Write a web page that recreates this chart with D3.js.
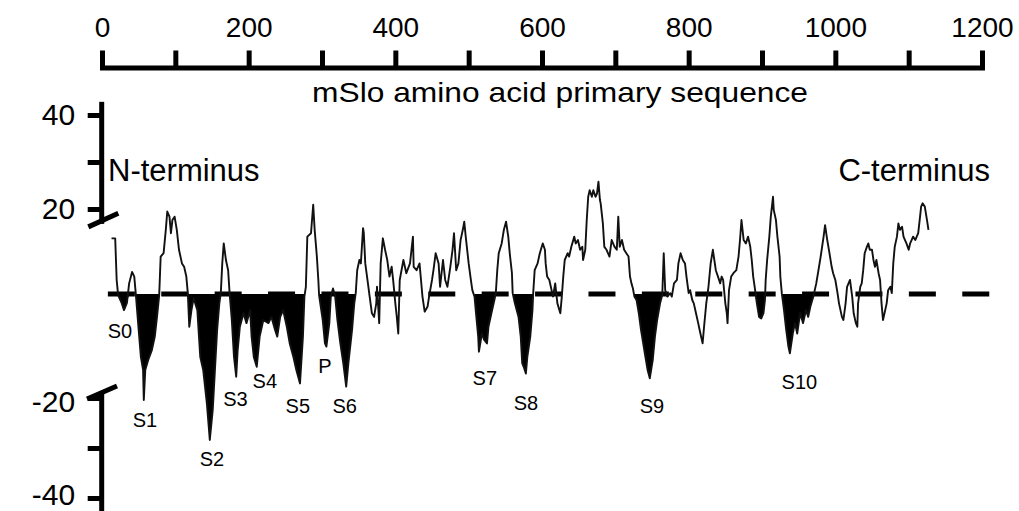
<!DOCTYPE html>
<html><head><meta charset="utf-8">
<script src="https://cdn.jsdelivr.net/npm/d3@7"></script>
<style>
body{margin:0;background:#fff}
svg{display:block}
text{font-family:"Liberation Sans",Arial,sans-serif;fill:#000}
</style>
</head><body>
<svg id="chart" width="1019" height="511"></svg>
<script>
// ---------- data ----------
const residue = [13,18,20,22,27,30,34,37,41,44,46,50,53,56,57,59,63,68,72,75,78,80,84,87,89,92,94,96,99,102,105,109,112,115,117,119,122,125,130,134,138,143,147,151,154,157,160,162,164,166,169,172,174,177,180,183,185,188,193,197,202,204,207,211,215,220,227,231,236,239,243,247,252,256,261,265,270,274,276,278,280,285,288,290,293,295,296,301,304,306,310,312,315,318,321,325,329,333,336,341,344,346,348,351,353,356,357,359,362,365,368,371,374,375,378,380,383,386,389,392,395,397,400,402,404,406,411,415,420,424,425,429,433,435,437,440,444,446,450,452,455,459,461,465,468,471,475,478,480,483,486,489,492,494,496,500,503,505,508,510,513,514,518,521,525,527,531,535,537,539,541,545,548,551,554,556,559,560,563,568,571,573,575,578,580,584,587,588,590,594,597,601,604,605,607,610,615,618,621,625,627,629,631,635,637,640,644,646,649,652,655,656,659,661,663,665,668,670,673,675,677,679,680,683,685,688,692,695,699,702,704,706,709,712,715,718,720,722,724,726,729,732,735,738,741,744,747,751,754,757,761,764,766,768,771,775,777,780,784,786,789,792,795,797,800,802,805,807,810,813,816,819,821,824,827,830,833,835,837,840,843,845,847,850,852,853,855,858,861,865,868,870,872,875,878,881,884,886,888,890,893,896,899,902,904,905,907,910,912,915,916,919,921,924,925,927,930,933,936,938,942,945,948,952,956,960,963,966,970,974,977,980,984,986,989,992,995,997,1000,1003,1005,1009,1011,1014,1016,1020,1023,1025,1028,1030,1031,1034,1036,1038,1040,1043,1045,1047,1050,1052,1054,1056,1059,1061,1063,1065,1068,1070,1072,1075,1077,1079,1081,1084,1086,1088,1091,1093,1095,1097,1100,1102,1104,1106,1109,1111,1113,1115,1117,1119,1122,1125,1127];
const hydropathy = [13.1,13.1,3.3,-0.2,-1.8,-3.1,-1.7,2.5,5.2,4.1,0.2,-6.9,-12.1,-14.6,-20.4,-14.6,-12.7,-10.8,-8.2,-4.4,-0.2,8.8,9.6,15.1,19.4,18.2,14.3,17.4,18.2,15.1,10.4,7.2,6.4,4.1,0.2,-6.3,-3.1,-0.8,-3.1,-12.1,-14.6,-21.1,-28.4,-22.4,-14.6,-6.9,-1.8,0.2,7.2,11.9,8.0,5.6,0.2,-5.0,-12.1,-15.9,-10.8,-6.3,-3.7,-5.6,-3.1,-8.2,-12.1,-14.0,-8.2,-5.0,-5.6,-4.4,-6.9,-8.2,-4.4,-3.1,-6.3,-9.5,-12.1,-14.6,-17.2,-8.2,-0.5,1.7,13.5,14.3,20.9,15.1,8.8,3.3,-0.2,-5.0,-9.5,-10.1,-5.6,-0.5,1.3,-0.5,-5.0,-9.5,-13.3,-17.8,-13.3,-6.9,-1.8,0.2,5.6,8.0,7.2,15.5,14.3,7.2,3.3,-0.5,-3.7,-4.4,-1.8,1.7,-5.6,7.2,13.1,10.4,8.0,4.1,6.4,3.3,-1.8,-4.4,-7.6,3.3,8.0,4.9,7.2,13.5,6.4,5.6,7.2,3.3,-0.5,-3.4,-2.4,-0.5,3.3,5.6,9.6,7.2,1.7,8.0,3.3,1.7,6.4,10.4,14.3,5.6,7.2,12.7,15.1,17.0,13.5,7.2,3.3,0.9,-0.5,-3.7,-8.2,-11.1,-7.6,-8.8,-9.5,-6.3,-3.7,-1.2,0.2,5.6,9.6,11.9,15.1,17.0,13.5,9.6,4.9,0.2,-1.8,-4.4,-8.2,-13.3,-14.0,-15.3,-12.1,-8.2,-3.1,0.2,5.6,7.2,9.6,11.9,10.4,7.2,4.1,3.3,-0.5,2.5,-1.8,-3.7,-0.5,4.1,8.0,9.6,8.8,11.1,13.5,11.9,12.7,10.4,11.1,8.0,10.4,17.4,22.6,24.0,22.6,24.0,22.6,23.3,25.8,21.9,21.2,16.6,11.1,10.4,8.8,12.7,11.1,10.4,18.2,11.1,12.7,10.4,9.6,8.8,4.1,2.5,1.3,-0.5,-1.2,-3.7,-6.9,-9.5,-12.1,-14.6,-16.2,-12.7,-8.2,-5.0,-1.8,-0.2,9.6,0.9,-0.5,0.2,-0.5,2.5,3.3,7.2,9.6,8.0,7.2,4.1,0.2,0.9,-1.2,-1.8,-3.7,-5.6,-7.6,-9.5,-6.3,-1.8,1.7,7.2,10.4,8.0,5.6,4.1,2.5,4.1,3.3,-1.8,-3.7,-5.6,0.9,4.1,4.9,5.6,8.8,12.7,17.4,12.7,11.9,13.5,11.1,8.0,4.1,1.7,-1.8,-4.4,-4.7,-3.7,-1.2,3.3,8.0,13.5,18.2,22.6,19.8,17.4,13.5,8.8,4.1,0.2,-3.1,-6.9,-10.1,-11.4,-7.6,-5.6,-7.6,-3.7,-5.6,-3.1,-4.4,-2.4,-0.5,2.5,5.6,8.8,13.5,16.2,12.7,9.6,6.4,4.9,3.3,0.2,-1.8,-4.4,-5.0,-1.8,1.7,3.3,-0.5,-3.7,-5.6,-6.3,-1.8,1.7,2.5,5.6,9.6,11.1,11.9,10.4,10.4,8.0,6.4,8.0,4.9,3.3,-1.8,-5.0,-3.1,-1.8,0.9,1.7,0.2,7.2,11.1,13.5,16.6,15.1,15.8,13.5,12.7,11.9,10.4,11.9,12.7,13.5,12.7,13.5,14.3,17.4,20.5,21.2,20.5,17.4,15.1];
// hydrophobic segments drawn filled (residue ranges)
const filledStart = [20,46,117,174,296,508,560,726,890,927];
const filledEnd   = [37,78,162,276,346,537,588,764,905,970];
// segment labels (annotation anchor in data units)
const segNames   = ["S0","S1","S2","S3","S4","S5","P","S6","S7","S8","S9","S10"];
const segResidue = [24.5,58.6,150,182,222,267,304,331,522,578,750,951];
const segValue   = [-8.5,-25.8,-33.6,-21.6,-18.1,-23,-15.2,-23,-17.5,-22.4,-23,-18.3];
// axes
const xTicks = [0,100,200,300,400,500,600,700,800,900,1000,1100,1200];
const yTicksUpper = [20,30,40];
const yTicksLower = [-40,-30,-20];
const yLabelled = [40,20,-20,-40];
const xTitle = "mSlo amino acid primary sequence";
const nLabel = "N-terminus", cLabel = "C-terminus";

// ---------- scales ----------
const svg = d3.select("#chart");
const x = d3.scaleLinear().domain([0,1200]).range([102,982]);
const y = d3.scaleLinear().domain([-40,-20,0,20,40]).range([498,398,294,209,115]);
const data = residue.map((r,i)=>({r, v: hydropathy[i]}));

// ---------- top axis ----------
const gx = svg.append("g").attr("transform","translate(0,67.5)")
  .call(d3.axisTop(x).tickValues(xTicks).tickSize(17).tickSizeOuter(0)
    .tickFormat(d => d % 200 === 0 ? d : ""));
gx.select(".domain").attr("stroke","#000").attr("stroke-width",5).attr("stroke-linecap","square");
gx.selectAll(".tick line").attr("stroke","#000").attr("stroke-width",5);
gx.selectAll(".tick text").attr("y",-30.5).attr("dy",0)
  .style("font-size","28px").style("font-family",'"Liberation Sans",Arial,sans-serif');
svg.append("text").attr("x",560).attr("y",101.5).attr("text-anchor","middle")
  .attr("textLength",496).attr("lengthAdjust","spacingAndGlyphs")
  .style("font-size","28px").text(xTitle);

// ---------- left broken axis ----------
const axX = 101.7;
function leftAxis(ticks){
  const g = svg.append("g").attr("transform",`translate(${axX},0)`)
    .call(d3.axisLeft(y).tickValues(ticks).tickSize(14).tickPadding(12.5)
      .tickFormat(d => yLabelled.includes(d) ? d : ""));
  g.select(".domain").remove();
  g.selectAll(".tick line").attr("stroke","#000").attr("stroke-width",5);
  g.selectAll(".tick text").style("font-size","30px")
    .style("font-family",'"Liberation Sans",Arial,sans-serif');
  return g;
}
leftAxis(yTicksUpper);
leftAxis(yTicksLower).selectAll(".tick text")
  .attr("dy", d => d === -40 ? "0.2em" : "0.45em");
const axisLines = [
  [axX, y(42.8), axX, y(16.5)],
  [axX-13.4, y(15.8), axX+16.6, y(19)],
  [axX, y(-18.8), axX, 511],
  [axX-14.7, y(-20.2), axX+15.3, y(-17.7)]
];
svg.append("g").selectAll("line").data(axisLines).join("line")
  .attr("x1",d=>d[0]).attr("y1",d=>d[1]).attr("x2",d=>d[2]).attr("y2",d=>d[3])
  .attr("stroke","#000").attr("stroke-width",5);

// ---------- zero line ----------
svg.append("line").attr("x1",x(8)).attr("x2",x(1212)).attr("y1",y(0)).attr("y2",y(0))
  .attr("stroke","#000").attr("stroke-width",5).attr("stroke-dasharray","27 26.4");

// ---------- filled hydrophobic segments ----------
const area = d3.area().x(d=>x(d.r)).y0(y(0)).y1(d=>y(Math.min(0,d.v)));
svg.append("g").selectAll("path").data(filledStart.map((s,i)=>[s,filledEnd[i]])).join("path")
  .attr("d", seg => area(data.filter(d => d.r >= seg[0] && d.r <= seg[1])))
  .attr("fill","#000");

// ---------- profile line ----------
svg.append("path").datum(data)
  .attr("d", d3.line().x(d=>x(d.r)).y(d=>y(d.v)))
  .attr("fill","none").attr("stroke","#111").attr("stroke-width",1.9)
  .attr("stroke-linejoin","round");

// ---------- labels ----------
svg.append("g").selectAll("text").data(segNames).join("text")
  .attr("x",(d,i)=>x(segResidue[i])).attr("y",(d,i)=>y(segValue[i]))
  .attr("text-anchor","middle").style("font-size","20px").text(d=>d);
svg.append("text").attr("x",108).attr("y",181).style("font-size","31px").text(nLabel);
svg.append("text").attr("x",990).attr("y",181).attr("text-anchor","end").style("font-size","31px").text(cLabel);
</script>
</body></html>
